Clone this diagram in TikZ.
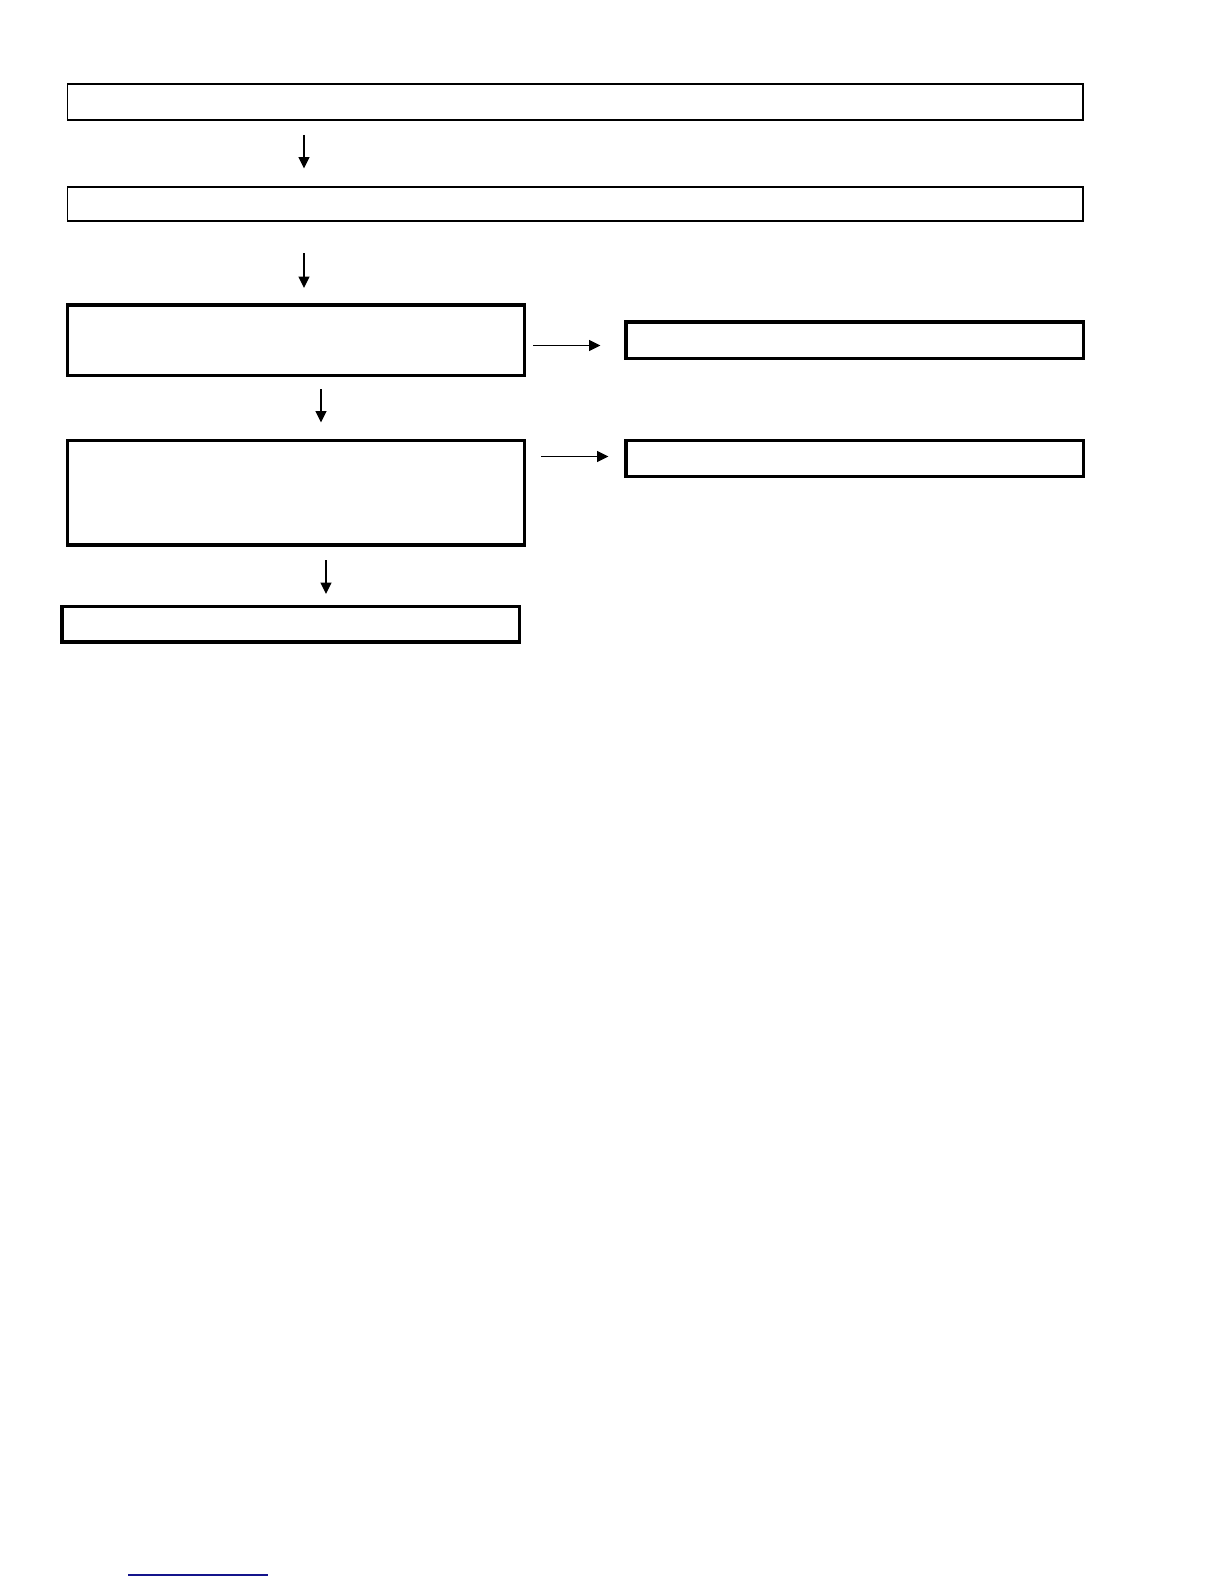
\documentclass[tikz,border=0pt]{standalone}
\usetikzlibrary{arrows.meta}
\begin{document}
\begin{tikzpicture}[x=1pt,y=-1pt,
  thinbox/.style={draw=black,line width=1.6pt,fill=white},
  thickbox/.style={draw=black,line width=3.2pt,fill=white},
  flow/.style={draw=black,line width=1.4pt,-{Triangle[length=11.5pt,width=11pt]}}]
\useasboundingbox[fill=white] (0,0) rectangle (1224,1584);
\draw[thinbox] (67.5,84) rectangle (1083,120);
\draw[thinbox] (67.5,187) rectangle (1083,221);
\draw[thickbox] (67.5,305) rectangle (524.5,375.5);
\draw[thickbox] (626,322) rectangle (1083.5,358.5);
\draw[thickbox] (67.5,440.5) rectangle (524.5,545);
\draw[thickbox] (626,440.5) rectangle (1083.5,476.5);
\draw[thickbox] (62,606.5) rectangle (519.5,642);
\coordinate (a1s) at (304,135); \coordinate (a1e) at (304,168.5);
\coordinate (a2s) at (304,253); \coordinate (a2e) at (304,288);
\coordinate (a3s) at (321,389); \coordinate (a3e) at (321,422.5);
\coordinate (a4s) at (326,560); \coordinate (a4e) at (326,594);
\coordinate (h1s) at (533,345.5); \coordinate (h1e) at (600.5,345.5);
\coordinate (h2s) at (541,456.5); \coordinate (h2e) at (608.5,456.5);
\draw[flow] (a1s) -- (a1e);
\draw[flow] (a2s) -- (a2e);
\draw[flow] (a3s) -- (a3e);
\draw[flow] (a4s) -- (a4e);
\draw[flow] (h1s) -- (h1e);
\draw[flow] (h2s) -- (h2e);
\coordinate (ls) at (128,1575); \coordinate (le) at (268,1575);
\draw[line width=1.6pt,color={rgb,255:red,20;green,20;blue,140}] (ls) -- (le);
\end{tikzpicture}
\end{document}
